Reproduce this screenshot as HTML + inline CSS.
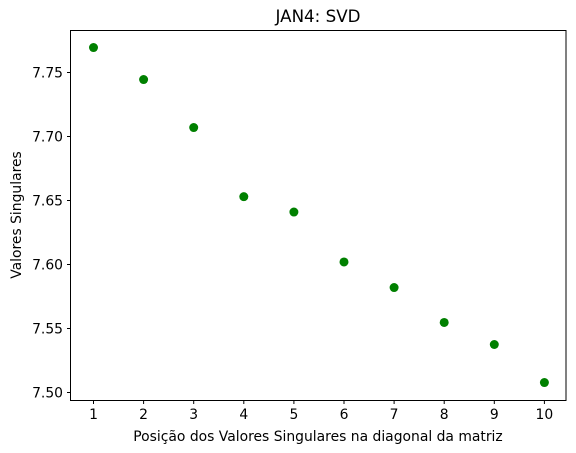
<!DOCTYPE html>
<html><head><meta charset="utf-8"><style>
html,body{margin:0;padding:0;background:#fff;}
svg{display:block;font-family:"DejaVu Sans","Liberation Sans",sans-serif;}
</style></head><body>
<svg id="chart" width="576" height="453" viewBox="0 0 576 453" xmlns="http://www.w3.org/2000/svg">
<rect width="576" height="453" fill="#fff"/>
<text x="318" y="22" text-anchor="middle" font-size="16.7">JAN4: SVD</text>
<g id="ticks"></g>
<g id="points"></g>
<rect x="70.5" y="30.5" width="495.5" height="370" fill="none" stroke="#000" stroke-width="1"/>
<text x="318" y="441" text-anchor="middle" font-size="13.9">Posição dos Valores Singulares na diagonal da matriz</text>
<text transform="translate(21,215) rotate(-90)" text-anchor="middle" font-size="13.9">Valores Singulares</text>
</svg>
<script>
const positions = [1,2,3,4,5,6,7,8,9,10];
const singularValues = [7.7695,7.7445,7.707,7.653,7.641,7.602,7.582,7.5547,7.5375,7.5078];
const xTicks = [1,2,3,4,5,6,7,8,9,10];
const yTicks = [7.50,7.55,7.60,7.65,7.70,7.75];
const yTickLabels = ["7.50","7.55","7.60","7.65","7.70","7.75"];
const NS = "http://www.w3.org/2000/svg";
function xs(v){return 93.5 + (v-1)*50.1;}
function ys(v){return 392.5 - (v-7.5)*1280;}
const tg = document.getElementById('ticks');
const pg = document.getElementById('points');
function mk(tag, attrs, parent){const e=document.createElementNS(NS,tag);for(const k in attrs)e.setAttribute(k,attrs[k]);parent.appendChild(e);return e;}
xTicks.forEach(t=>{
  const l=mk('line',{x1:xs(t),x2:xs(t),y1:400.5,y2:404,stroke:'#000'},tg);
  
  
  const tx=mk('text',{x:xs(t),y:419,'text-anchor':'middle','font-size':'13.9'},tg);
  tx.textContent=t;
  
  
});
yTicks.forEach((t,i)=>{
  const l=mk('line',{x1:67,x2:70.5,y1:ys(t),y2:ys(t),stroke:'#000'},tg);
  
  
  const tx=mk('text',{x:63,y:ys(t)+5,'text-anchor':'end','font-size':'13.9'},tg);
  tx.textContent=yTickLabels[i];
  
  
});
positions.forEach((p,i)=>{
  const c=mk('circle',{cx:xs(p),cy:ys(singularValues[i]),r:4.5,fill:'#008000'},pg);
  
  
});
</script>
</body></html>
